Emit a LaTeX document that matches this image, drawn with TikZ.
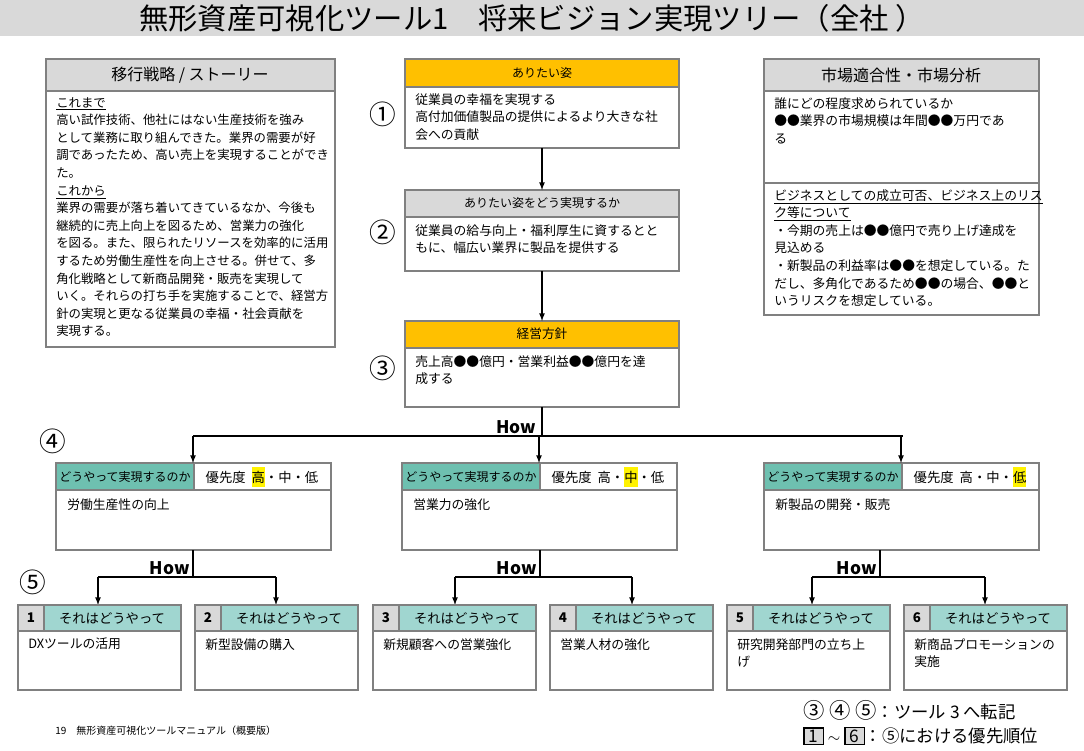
\documentclass[tikz,border=0pt]{standalone}
\usepackage{fontspec}
\setmainfont{Noto Sans CJK JP}
\usetikzlibrary{positioning}
\definecolor{hdrgray}{RGB}{217,217,217}
\definecolor{goldhdr}{RGB}{255,192,0}
\definecolor{tealdark}{RGB}{110,192,176}
\definecolor{teallight}{RGB}{160,214,208}
\definecolor{edgegray}{RGB}{128,128,128}
\tikzset{
  box/.style={draw=edgegray,line width=0.8pt},
  txt/.style={anchor=north west,inner sep=0pt,align=left,font=\fontsize{9.6}{13.2}\selectfont},
  num/.style={inner sep=0pt,font=\fontsize{20}{20}\selectfont},
  how/.style={inner sep=0pt,font=\fontsize{13}{13}\selectfont\bfseries},
  arr/.style={-latex,line width=1pt},
  ln/.style={line width=1pt},
}
\newcommand{\hl}[1]{\colorbox{yellow}{\kern-3pt#1\kern-3pt}}
\begin{document}
\begin{tikzpicture}[x=0.75pt,y=0.75pt,yscale=-1,xscale=1]
\useasboundingbox (0,0) rectangle (1084,750);
% title
\fill[hdrgray] (0,0) rectangle (1084,36);
\node[inner sep=0pt,font=\fontsize{22}{22}\selectfont] (title) at (532,18) {無形資産可視化ツール1　将来ビジョン実現ツリー（全社 ）};

% left story box
\draw[box,fill=hdrgray] (46,59) rectangle (335,91);
\draw[box] (46,91) rectangle (335,347);
\node[inner sep=0pt,font=\fontsize{12}{12}\selectfont] (storyhdr) at (190,75) {移行戦略 / ストーリー};
\node[txt,font=\fontsize{9.3}{13.2}\selectfont] (story) at (56,97) {\underline{これまで}\\高い試作技術、他社にはない生産技術を強み\\として業務に取り組んできた。業界の需要が好\\調であったため、高い売上を実現することができ\\た。\\\underline{これから}\\業界の需要が落ち着いてきているなか、今後も\\継続的に売上向上を図るため、営業力の強化\\を図る。また、限られたリソースを効率的に活用\\するため労働生産性を向上させる。併せて、多\\角化戦略として新商品開発・販売を実現して\\いく。それらの打ち手を実施することで、経営方\\針の実現と更なる従業員の幸福・社会貢献を\\実現する。};

% right market box
\draw[box,fill=hdrgray] (764,59) rectangle (1039,91);
\draw[box] (764,91) rectangle (1039,183);
\draw[box] (764,183) rectangle (1039,315);
\node[inner sep=0pt,font=\fontsize{12}{12}\selectfont] (markethdr) at (901,75) {市場適合性・市場分析};
\node[txt] (market1) at (774,97) {誰にどの程度求められているか\\●●業界の市場規模は年間●●万円であ\\る};
\node[txt] (market2) at (774,189) {\underline{ビジネスとしての成立可否、ビジネス上のリス}\\\underline{ク等について}\\・今期の売上は●●億円で売り上げ達成を\\見込める\\・新製品の利益率は●●を想定している。た\\だし、多角化であるため●●の場合、●●と\\いうリスクを想定している。};

% center column
\draw[box,fill=goldhdr] (405,59) rectangle (679,87);
\draw[box] (405,87) rectangle (679,148);
\node[inner sep=0pt,font=\fontsize{9}{9}\selectfont] (visionhdr) at (542,73) {ありたい姿};
\node[txt] (vision) at (415,93) {従業員の幸福を実現する\\高付加価値製品の提供によるより大きな社\\会への貢献};
\coordinate (visionbot) at (542,148);

\draw[box,fill=hdrgray] (405,190) rectangle (679,217);
\draw[box] (405,217) rectangle (679,271);
\node[inner sep=0pt,font=\fontsize{9}{9}\selectfont] (howhdr) at (542,203) {ありたい姿をどう実現するか};
\node[txt] (howtxt) at (415,224) {従業員の給与向上・福利厚生に資するとと\\もに、幅広い業界に製品を提供する};
\coordinate (howtop) at (542,190);
\coordinate (howbot) at (542,271);

\draw[box,fill=goldhdr] (405,321) rectangle (679,348);
\draw[box] (405,348) rectangle (679,407);
\node[inner sep=0pt,font=\fontsize{9.5}{9.5}\selectfont] (policyhdr) at (542,334) {経営方針};
\node[txt] (policy) at (415,355) {売上高●●億円・営業利益●●億円を達\\成する};
\coordinate (policytop) at (542,321);
\coordinate (policybot) at (542,407);

\draw[arr] (visionbot) -- (howtop);
\draw[arr] (howbot) -- (policytop);

% circled numbers
\node[num] (c1) at (383,114) {①};
\node[num] (c2) at (383,232) {②};
\node[num] (c3) at (383,368) {③};
\node[num] (c4) at (53,441) {④};
\node[num] (c5) at (33,582) {⑤};

% level 4
\coordinate (split4) at (542,436);
\draw[ln] (policybot) -- (split4);
\draw[ln] (193,436) -- (903,436);
\node[how] (how4) at (516,427) {How};
\foreach \x/\p/\what in {56/{\hl{高}・中・低}/労働生産性の向上, 402/{高・\hl{中}・低}/営業力の強化, 764/{高・中・\hl{低}}/新製品の開発・販売}{
  \draw[box,fill=tealdark] (\x,463) rectangle ++(138,27);
  \draw[box] (\x+138,463) rectangle ++(137,27);
  \draw[box] (\x,490) rectangle ++(275,60);
  \node[inner sep=0pt,font=\fontsize{9}{9}\selectfont] at (\x+69,477) {どうやって実現するのか};
  \node[inner sep=0pt,font=\fontsize{10}{10}\selectfont] at (\x+206,477) {優先度\ \ \p};
  \node[txt] at (\x+11,498) {\what};
  \draw[arr] (\x+137,436) -- (\x+137,463);
}

% level 5
\foreach \c/\l/\r in {193/98/276, 540/455/632, 880/812/985}{
  \draw[ln] (\c,550) -- (\c,577);
  \draw[ln] (\l,577) -- (\r,577);
  \draw[arr] (\l,577) -- (\l,605);
  \draw[arr] (\r,577) -- (\r,605);
  \node[how,anchor=east] at (\c-3,568) {How};
}
\foreach \x/\n/\what in {18/1/DXツールの活用, 195/2/新型設備の購入, 373/3/新規顧客への営業強化, 550/4/営業人材の強化, 727/5/{研究開発部門の立ち上\\げ}, 904/6/{新商品プロモーションの\\実施}}{
  \draw[box,fill=hdrgray] (\x,605) rectangle ++(26,26);
  \draw[box,fill=teallight] (\x+26,605) rectangle ++(137,26);
  \draw[box] (\x,631) rectangle ++(163,59);
  \node[inner sep=0pt,font=\fontsize{10}{10}\selectfont\bfseries] at (\x+13,618) {\n};
  \node[inner sep=0pt,font=\fontsize{10}{10}\selectfont] at (\x+94,618) {それはどうやって};
  \node[txt] at (\x+10,638) {\what};
}

% footer and legend
\node[inner sep=0pt,anchor=west,font=\fontsize{7.5}{7.5}\selectfont] (footer) at (55,731) {19　無形資産可視化ツールマニュアル（概要版）};
\node[inner sep=0pt,anchor=west,font=\fontsize{13}{13}\selectfont] (legend1) at (803,710) {{\fontsize{16}{16}\selectfont③ ④ ⑤}：ツール 3 へ転記};
\node[inner sep=0pt,anchor=west,font=\fontsize{13}{13}\selectfont] (legend2) at (803,736) {\fboxsep=1pt\colorbox{black}{\colorbox{hdrgray}{\,1\,}} $\sim$ \fboxsep=1pt\colorbox{black}{\colorbox{hdrgray}{\,6\,}}：⑤における優先順位};
\end{tikzpicture}
\end{document}
